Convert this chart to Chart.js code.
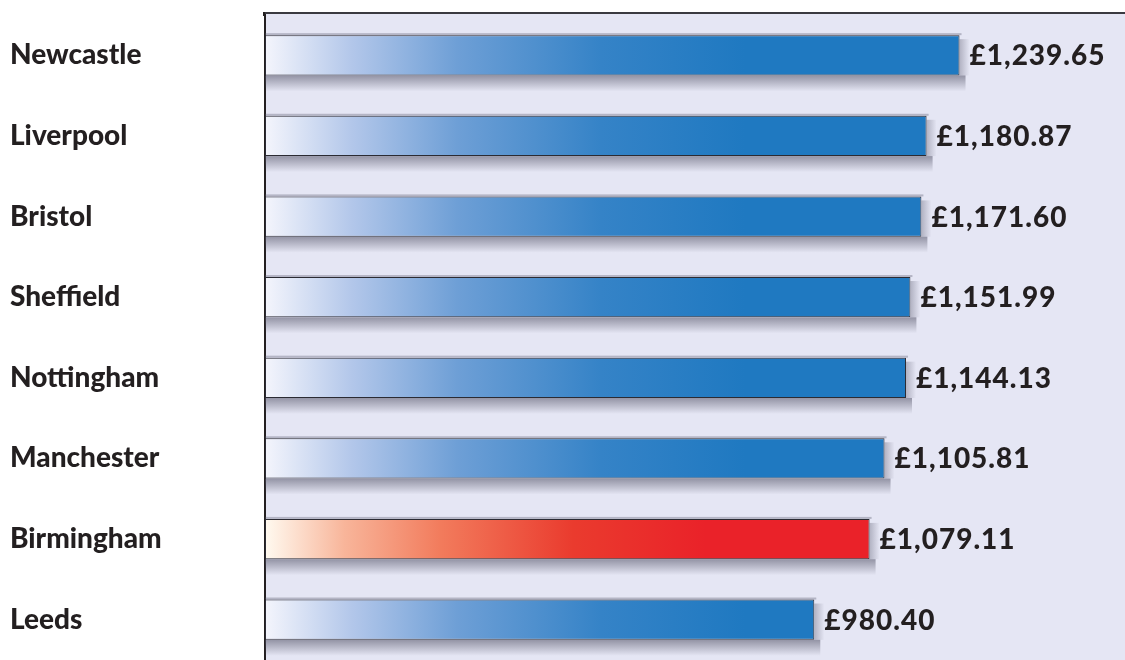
<!DOCTYPE html>
<html>
<head>
<meta charset="utf-8">
<script src="https://cdn.jsdelivr.net/npm/chart.js@4.4.1/dist/chart.umd.min.js"></script>
<style>
  html, body { margin: 0; padding: 0; background: #fff; }
  #wrap { width: 1125px; height: 660px; }
</style>
</head>
<body>
<div id="wrap"><canvas id="rentChart"></canvas></div>
<script>
const cities = ['Newcastle', 'Liverpool', 'Bristol', 'Sheffield', 'Nottingham', 'Manchester', 'Birmingham', 'Leeds'];
const values = [1239.65, 1180.87, 1171.60, 1151.99, 1144.13, 1105.81, 1079.11, 980.40];
const highlight = ['Birmingham'];

const fontFam = 'Lato, "Open Sans", sans-serif';

function barFill(c) {
    const chart = c.chart;
    const area = chart.chartArea;
    if (!area) return '#1f79c1';
    const x0 = area.left;
    const red = highlight.includes(cities[c.dataIndex]);
    const g = chart.ctx.createLinearGradient(x0, 0, x0 + (red ? 440 : 480), 0);
    if (red) {
        g.addColorStop(0, '#fffaf0');
        g.addColorStop(0.18, '#f8b59a');
        g.addColorStop(0.4, '#f27b5c');
        g.addColorStop(0.7, '#ea3b2e');
        g.addColorStop(1, '#ea2229');
    } else {
        g.addColorStop(0, '#f4f5fc');
        g.addColorStop(0.18, '#b3c7ea');
        g.addColorStop(0.4, '#6e9fd6');
        g.addColorStop(0.7, '#3583c7');
        g.addColorStop(1, '#1f79c1');
    }
    return g;
}

// lavender panel behind the bars
const panel = {
    id: 'panel',
    beforeDraw(chart) {
        const { ctx, chartArea: a } = chart;
        const top = a.top - 2;
        ctx.save();
        ctx.fillStyle = '#e5e6f4';
        ctx.fillRect(a.left, top, a.right - a.left, a.bottom - top);
        ctx.strokeStyle = '#3a3a40';
        ctx.lineWidth = 2;
        ctx.beginPath();
        ctx.moveTo(a.left, top);
        ctx.lineTo(a.right, top);
        ctx.stroke();
        ctx.restore();
    },
    afterDraw(chart) {
        // extend the left axis line up to the panel top
        const { ctx, chartArea: a } = chart;
        ctx.save();
        ctx.strokeStyle = '#231f20';
        ctx.lineWidth = 2;
        ctx.beginPath();
        ctx.moveTo(a.left - 1, a.top - 3);
        ctx.lineTo(a.left - 1, a.top + 1);
        ctx.stroke();
        ctx.restore();
    }
};

// soft shadow under each bar, drawn from the bar elements
const barShadow = {
    id: 'barShadow',
    beforeDatasetsDraw(chart) {
        const ctx = chart.ctx;
        const meta = chart.getDatasetMeta(0);
        ctx.save();
        meta.data.forEach(bar => {
            const top = bar.y - bar.height / 2;
            const bot = bar.y + bar.height / 2;
            ctx.fillStyle = 'rgba(90, 90, 110, 0.35)';
            ctx.fillRect(bar.base, top - 2, bar.x - bar.base + 2, 2);
            const g = ctx.createLinearGradient(0, bot, 0, bot + 16);
            g.addColorStop(0, 'rgba(80, 80, 100, 0.55)');
            g.addColorStop(1, 'rgba(80, 80, 100, 0)');
            ctx.fillStyle = g;
            ctx.fillRect(bar.base, bot, bar.x - bar.base + 6, 16);
            const gr = ctx.createLinearGradient(bar.x, 0, bar.x + 10, 0);
            gr.addColorStop(0, 'rgba(80, 80, 100, 0.35)');
            gr.addColorStop(1, 'rgba(80, 80, 100, 0)');
            ctx.fillStyle = gr;
            ctx.fillRect(bar.x, top + 4, 10, bar.height - 4);
        });
        ctx.restore();
    }
};

const valueLabels = {
    id: 'valueLabels',
    afterDatasetsDraw(chart) {
        const ctx = chart.ctx;
        const meta = chart.getDatasetMeta(0);
        ctx.save();
        ctx.font = '900 28px ' + fontFam;
        ctx.fillStyle = '#231f20';
        ctx.textAlign = 'left';
        ctx.textBaseline = 'middle';
        ctx.letterSpacing = '1px';
        meta.data.forEach((bar, i) => {
            const txt = '£' + values[i].toLocaleString('en-GB', { minimumFractionDigits: 2, maximumFractionDigits: 2 });
            ctx.fillText(txt, bar.x + 10, bar.y + 1);
        });
        ctx.restore();
    }
};

const ctx1 = document.getElementById('rentChart').getContext('2d');
const rentChart = new Chart(ctx1, {
    type: 'bar',
    data: {
        labels: cities,
        datasets: [{
            data: values,
            backgroundColor: barFill,
            borderColor: '#2b2b33',
            borderWidth: 1,
            borderSkipped: false,
            barPercentage: 0.5,
            categoryPercentage: 1
        }]
    },
    options: {
        indexAxis: 'y',
        responsive: true,
        maintainAspectRatio: false,
        animation: false,
        layout: { padding: { left: 10, top: 15, right: 0, bottom: -3 } },
        plugins: {
            legend: { display: false },
            tooltip: { enabled: false }
        },
        scales: {
            x: {
                display: false,
                min: 0,
                max: 1535
            },
            y: {
                grid: { display: false, drawTicks: false },
                border: { display: true, color: '#231f20', width: 2 },
                afterFit(scale) {
                    scale.width = 255;
                    scale.paddingTop = 0;
                    scale.paddingBottom = 0;
                },
                ticks: {
                    crossAlign: 'far',
                    padding: 0,
                    color: '#231f20',
                    font: { family: fontFam, size: 28, weight: 900 }
                }
            }
        }
    },
    plugins: [panel, barShadow, valueLabels]
});
</script>
</body>
</html>
